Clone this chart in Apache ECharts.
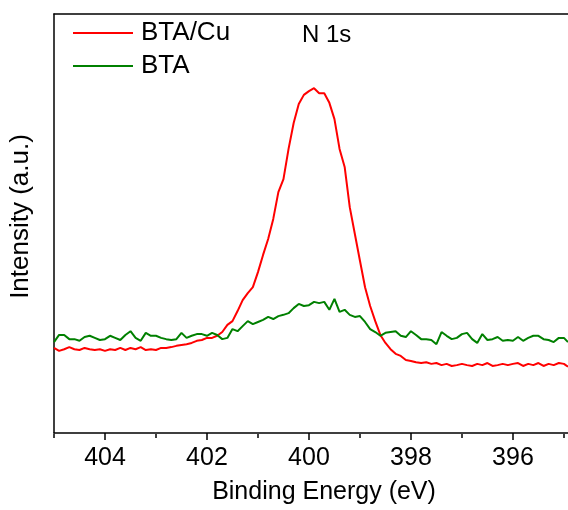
<!DOCTYPE html>
<html>
<head>
<meta charset="utf-8">
<script src="https://cdn.jsdelivr.net/npm/echarts@6/dist/echarts.min.js"></script>
<style>html,body{margin:0;padding:0;background:#fff;}#c{width:568px;height:510px;}</style>
</head>
<body>
<div id="c"></div>
<script>
const energy = [
405.0,404.9,404.8,404.7,404.6,404.5,404.4,404.3,404.2,404.1,
404.0,403.9,403.8,403.7,403.6,403.5,403.4,403.3,403.2,403.1,
403.0,402.9,402.8,402.7,402.6,402.5,402.4,402.3,402.2,402.1,
402.0,401.9,401.8,401.7,401.6,401.5,401.4,401.3,401.2,401.1,
401.0,400.9,400.8,400.7,400.6,400.5,400.4,400.3,400.2,400.1,
400.0,399.9,399.8,399.7,399.6,399.5,399.4,399.3,399.2,399.1,
399.0,398.9,398.8,398.7,398.6,398.5,398.4,398.3,398.2,398.1,
398.0,397.9,397.8,397.7,397.6,397.5,397.4,397.3,397.2,397.1,
397.0,396.9,396.8,396.7,396.6,396.5,396.4,396.3,396.2,396.1,
396.0,395.9,395.8,395.7,395.6,395.5,395.4,395.3,395.2,395.1,
395.0,394.92];

const btaCu = [
20.3,19.6,20.0,20.5,20.0,19.8,20.3,20.0,19.8,20.0,
19.6,20.0,19.8,20.3,19.8,20.3,20.0,20.5,19.8,20.0,
19.8,20.3,20.3,20.5,20.8,21.0,21.2,21.5,22.0,22.2,
22.7,22.7,23.2,24.1,25.8,26.7,29.1,31.7,33.4,34.8,
38.4,42.5,46.3,51.1,57.5,60.6,67.8,74.0,78.5,80.7,
81.6,82.3,81.1,81.1,78.8,74.9,67.8,63.5,53.9,47.5,
41.1,34.8,30.3,26.7,23.4,21.5,20.0,18.9,18.4,17.4,
17.2,16.9,16.7,16.9,16.5,16.7,16.2,16.5,16.0,16.2,
16.5,16.2,16.0,16.5,16.2,16.7,16.0,16.2,16.5,16.2,
16.5,16.7,16.0,16.5,16.2,16.7,16.0,16.5,16.2,16.7,
16.5,15.8];

const bta = [
21.7,23.4,23.4,22.4,22.4,22.0,22.9,23.2,22.7,22.2,
22.4,23.2,22.7,22.2,23.4,24.3,22.7,22.0,23.9,23.2,
23.2,22.7,22.4,22.2,22.4,23.9,22.7,23.2,23.6,23.6,
23.2,23.9,23.4,22.4,22.7,24.8,24.3,25.5,26.7,26.0,
26.5,27.0,27.7,27.2,27.9,28.2,28.6,29.8,30.8,30.3,
30.5,31.3,31.0,31.3,29.4,32.0,28.9,29.4,28.2,27.7,
27.9,26.5,24.8,24.1,23.2,23.9,24.1,24.3,23.2,22.9,
24.3,23.4,22.4,22.4,22.2,21.2,24.1,23.2,22.4,22.7,
23.6,23.9,22.4,21.5,23.6,22.2,22.4,22.9,22.0,22.2,
22.0,22.9,22.0,22.7,23.2,23.2,22.4,22.2,21.7,22.7,
22.7,21.7];

const majorTicks = [404, 402, 400, 398, 396];
const minorTicks = [405, 403, 401, 399, 397, 395];
const seriesNames = ['BTA/Cu', 'BTA'];
const xTitle = 'Binding Energy (eV)';
const yTitle = 'Intensity (a.u.)';
const panelLabel = 'N 1s';

const FONT = 'Arial, "Liberation Sans", sans-serif';
const X_MIN = 394.92, X_MAX = 405;

const chart = echarts.init(document.getElementById('c'), null, {renderer: 'canvas'});
const gridRect = {left: 54, top: 14, right: 0, bottom: 76, containLabel: false};
chart.setOption({
  animation: false,
  backgroundColor: '#fff',
  title: {
    text: panelLabel, left: 302, top: 23, padding: 0,
    textStyle: {fontFamily: FONT, fontSize: 24, fontWeight: 'normal', color: '#000', lineHeight: 24}
  },
  legend: {
    orient: 'vertical', left: 73, top: 20, padding: 0,
    itemWidth: 60, itemHeight: 2, itemGap: 7, icon: 'rect',
    data: seriesNames,
    textStyle: {fontFamily: FONT, fontSize: 26, color: '#000', lineHeight: 26, padding: [0, 0, 0, 3]}
  },
  grid: [Object.assign({}, gridRect), Object.assign({}, gridRect)],
  xAxis: [
    {
      gridIndex: 0, type: 'value', position: 'bottom', inverse: true, min: X_MIN, max: X_MAX,
      name: xTitle, nameLocation: 'middle', nameGap: 47,
      nameTextStyle: {fontFamily: FONT, fontSize: 25, color: '#000', padding: [0, 0, 0, 26]},
      axisLine: {show: true, onZero: false, lineStyle: {color: '#000', width: 1.5}},
      axisTick: {show: true, inside: false, length: 7, customValues: majorTicks, lineStyle: {color: '#000', width: 1.5}},
      axisLabel: {show: true, margin: 13, customValues: majorTicks, fontFamily: FONT, fontSize: 25, color: '#000'},
      splitLine: {show: false}
    },
    {
      gridIndex: 0, type: 'value', position: 'top', inverse: true, min: X_MIN, max: X_MAX,
      axisLine: {show: true, onZero: false, lineStyle: {color: '#000', width: 1.5}},
      axisTick: {show: false}, axisLabel: {show: false}, splitLine: {show: false}
    },
    {
      gridIndex: 1, type: 'value', position: 'bottom', inverse: true, min: X_MIN, max: X_MAX,
      axisLine: {show: false, onZero: false},
      axisTick: {show: true, inside: false, length: 4, customValues: minorTicks, lineStyle: {color: '#000', width: 1.5}},
      axisLabel: {show: false}, splitLine: {show: false}
    }
  ],
  yAxis: [
    {
      gridIndex: 0, type: 'value', min: 0, max: 100,
      name: yTitle, nameLocation: 'middle', nameGap: 20,
      nameTextStyle: {fontFamily: FONT, fontSize: 26, color: '#000', padding: [0, 0, 0, 14]},
      axisLine: {show: true, onZero: false, lineStyle: {color: '#000', width: 1.5}},
      axisTick: {show: false}, axisLabel: {show: false}, splitLine: {show: false}
    },
    {
      gridIndex: 1, type: 'value', min: 0, max: 100, show: false
    }
  ],
  series: [
    {
      name: seriesNames[0], type: 'line', xAxisIndex: 0, yAxisIndex: 0,
      showSymbol: false, symbol: 'none', color: '#ff0000',
      lineStyle: {color: '#ff0000', width: 2},
      data: energy.map((e, i) => [e, btaCu[i]])
    },
    {
      name: seriesNames[1], type: 'line', xAxisIndex: 0, yAxisIndex: 0,
      showSymbol: false, symbol: 'none', color: '#008000',
      lineStyle: {color: '#008000', width: 2},
      data: energy.map((e, i) => [e, bta[i]])
    }
  ]
});
</script>
</body>
</html>
